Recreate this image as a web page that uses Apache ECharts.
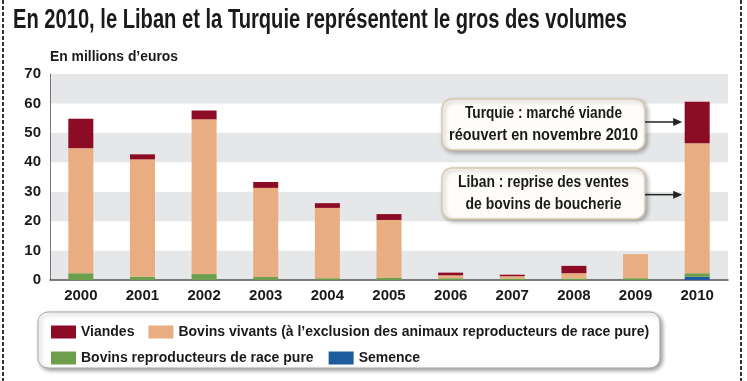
<!DOCTYPE html>
<html><head><meta charset="utf-8">
<script src="https://cdn.jsdelivr.net/npm/echarts@6/dist/echarts.min.js"></script>
<style>html,body{margin:0;padding:0;background:#fff}#c{width:747px;height:381px}</style>
</head><body><div id="c"></div>
<script>
const categories = ['2000','2001','2002','2003','2004','2005','2006','2007','2008','2009','2010'];
const semence = [0,0,0,0,0,0,0,0,0,0,1.1];
const reproducteurs = [2.3,1.1,2.0,1.0,0.6,0.8,0.6,0.5,0.5,0.6,1.2];
const bovinsVivants = [42.5,39.9,52.6,30.3,23.9,19.6,1.0,0.8,1.8,8.2,44.2];
const viandes = [10.0,1.7,3.0,2.0,1.6,2.0,0.9,0.5,2.5,0,14.1];
const yTicks = [0,10,20,30,40,50,60,70];

const FONT = '"Liberation Sans",Arial,sans-serif';
const colors = {viandes:'#8c0b25', vivants:'#e8ae82', repro:'#6c9e4c', semence:'#1f5c9e'};

const ctx = document.createElement('canvas').getContext('2d');
function measure(txt, size){ ctx.font = 'bold '+size+'px '+FONT; return ctx.measureText(txt).width; }
// text squeezed horizontally to a target width (imitates the condensed typeface)
function fitText(txt, x, y, size, targetW, align){
  const w = measure(txt, size);
  const s = targetW / w;
  return {type:'text', x, y, scaleX:s, scaleY:1,
    style:{text:txt, font:'bold '+size+'px '+FONT, fill:'#1a1a1a', align:align||'left', verticalAlign:'middle'}};
}

const chart = echarts.init(document.getElementById('c'));
function ser(name, data, color){
  return {name, type:'bar', stack:'t', data, barWidth:25, itemStyle:{color}, emphasis:{disabled:true}};
}
const legendText = {fontFamily:FONT, fontWeight:'bold', fontSize:14, color:'#1a1a1a'};
chart.setOption({
  animation:false,
  grid:{left:50, right:19, top:74, bottom:101},
  legend:[
    {data:['Viandes','Bovins vivants (à l\u2019exclusion des animaux reproducteurs de race pure)'],
     left:46, top:320, itemWidth:25, itemHeight:13, itemGap:14, icon:'rect', textStyle:legendText, selectedMode:false},
    {data:['Bovins reproducteurs de race pure','Semence'],
     left:46, top:346, itemWidth:25, itemHeight:13, itemGap:15, icon:'rect', textStyle:legendText, selectedMode:false}
  ],
  xAxis:{type:'category', data:categories,
    axisLine:{lineStyle:{color:'#555', width:1.5}},
    axisTick:{length:5, lineStyle:{color:'#555'}},
    axisLabel:{fontFamily:FONT, fontWeight:'bold', fontSize:15, color:'#1a1a1a', margin:8}},
  yAxis:{type:'value', min:0, max:70, interval:10,
    axisLine:{show:true, lineStyle:{color:'#777'}},
    axisTick:{show:false},
    splitLine:{show:false},
    splitArea:{show:true, areaStyle:{color:['#e6e7e8','#ffffff']}},
    axisLabel:{fontFamily:FONT, fontWeight:'bold', fontSize:15, color:'#1a1a1a', margin:9,
      formatter:v=>yTicks.includes(v)?String(v):''}},
  series:[
    ser('Semence', semence, colors.semence),
    ser('Bovins reproducteurs de race pure', reproducteurs, colors.repro),
    ser('Bovins vivants (à l\u2019exclusion des animaux reproducteurs de race pure)', bovinsVivants, colors.vivants),
    ser('Viandes', viandes, colors.viandes)
  ]
});

const barLeft = chart.convertToPixel({xAxisIndex:0}, '2010') - 13;
function box(x,y,w,h,l1,w1,l2,w2){
  return {type:'group', children:[
    {type:'rect', shape:{x,y,width:w,height:h,r:10},
     style:{fill:'#fffdf9', stroke:'#d8c9b0', lineWidth:1.5, shadowBlur:4, shadowOffsetX:2, shadowOffsetY:2, shadowColor:'rgba(0,0,0,0.3)'}},
    fitText(l1, x+w/2, y+h/2-11, 17, w1, 'center'),
    fitText(l2, x+w/2, y+h/2+11, 17, w2, 'center')
  ]};
}
function arrow(x1,x2,y){
  return {type:'group', children:[
    {type:'line', shape:{x1, y1:y, x2:x2-8, y2:y}, style:{stroke:'#222', lineWidth:1.5}},
    {type:'polygon', shape:{points:[[x2,y],[x2-9,y-4],[x2-9,y+4]]}, style:{fill:'#222'}}
  ]};
}
const y1 = chart.convertToPixel({yAxisIndex:0}, 53.7);
const y2 = chart.convertToPixel({yAxisIndex:0}, 29);
chart.setOption({graphic:[
  {type:'line', shape:{x1:3,y1:0,x2:3,y2:381}, style:{stroke:'#333', lineWidth:2, lineDash:[4,2]}},
  {type:'line', shape:{x1:741,y1:0,x2:741,y2:381}, style:{stroke:'#333', lineWidth:2, lineDash:[4,2]}},
  fitText('En 2010, le Liban et la Turquie représentent le gros des volumes', 13, 21, 27, 614),
  fitText('En millions d\u2019euros', 50, 57, 15, 128),
  box(442,99,203,51,'Turquie : marché viande',157,'réouvert en novembre 2010',189),
  box(442,168,203,51,'Liban : reprise des ventes',171,'de bovins de boucherie',156),
  arrow(645, barLeft-2, y1),
  arrow(645, barLeft-2, y2),
  {type:'rect', z:-1, shape:{x:38,y:312,width:622,height:56,r:10},
   style:{fill:'#fff', stroke:'#aaa', lineWidth:1, shadowBlur:4, shadowOffsetX:2, shadowOffsetY:2, shadowColor:'rgba(0,0,0,0.4)'}}
]});
</script></body></html>
